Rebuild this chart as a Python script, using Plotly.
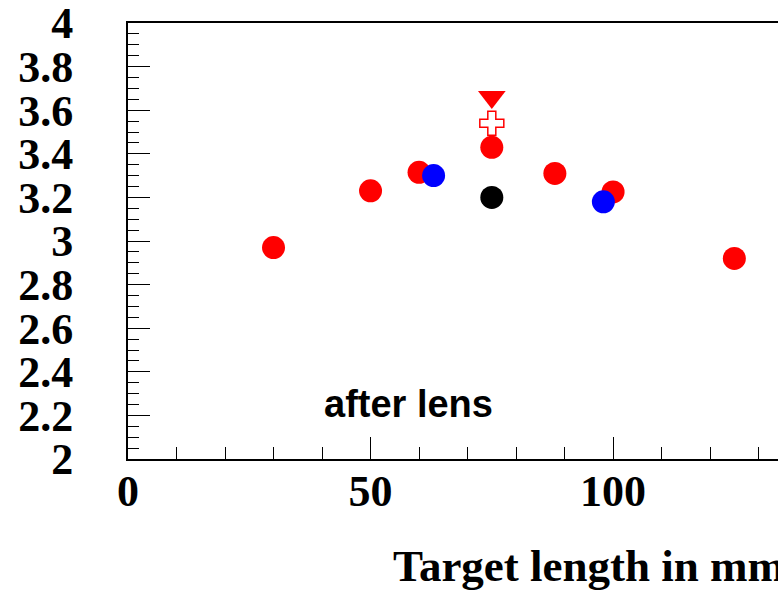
import plotly.graph_objects as go

# Resolution vs target length, measured after the lens
red_x = [30, 50, 60, 75, 88, 100, 125]
red_y = [2.97, 3.23, 3.315, 3.43, 3.31, 3.225, 2.92]

blue_x = [63, 98]
blue_y = [3.30, 3.18]

black_x = [75]
black_y = [3.20]

tri_x = [75]
tri_y = [3.66]

cross_x = [75]
cross_y = [3.54]

y_ticks = [2, 2.2, 2.4, 2.6, 2.8, 3, 3.2, 3.4, 3.6, 3.8, 4]
y_tick_text = ["2", "2.2", "2.4", "2.6", "2.8", "3", "3.2", "3.4", "3.6", "3.8", "4"]
x_ticks = [0, 50, 100]
x_tick_text = ["0", "50", "100"]

x_title = "Target length in mm"
label_text = "after lens"

serif_bold = dict(family="Liberation Serif", size=44, color="black", weight="bold")

fig = go.Figure()

fig.add_trace(go.Scatter(x=red_x, y=red_y, mode="markers",
                         marker=dict(symbol="circle", size=23, color="#ff0000", line=dict(width=0))))
fig.add_trace(go.Scatter(x=blue_x, y=blue_y, mode="markers",
                         marker=dict(symbol="circle", size=23, color="#0000ff", line=dict(width=0))))
fig.add_trace(go.Scatter(x=black_x, y=black_y, mode="markers",
                         marker=dict(symbol="circle", size=23, color="#000000", line=dict(width=0))))
fig.add_trace(go.Scatter(x=tri_x, y=tri_y, mode="markers",
                         marker=dict(symbol="triangle-down", size=24, color="#ff0000", line=dict(width=0))))
fig.add_trace(go.Scatter(x=cross_x, y=cross_y, mode="markers",
                         marker=dict(symbol="cross-open", size=20, color="#ff0000",
                                     line=dict(width=1.5, color="#ff0000"))))

fig.update_layout(
    width=778, height=593,
    margin=dict(l=128, r=0, t=23, b=134, autoexpand=False),
    paper_bgcolor="white", plot_bgcolor="white",
    showlegend=False,
    xaxis=dict(
        range=[0, 134], showgrid=False, zeroline=False,
        showline=True, linecolor="black", linewidth=2, mirror=True,
        ticks="inside", ticklen=22, tickwidth=1, tickcolor="black",
        tickvals=x_ticks, ticktext=x_tick_text, tickfont=serif_bold,
        ticklabelstandoff=-8, ticklabeloverflow="allow",
        minor=dict(dtick=10, tick0=0, ticks="inside", ticklen=12, tickwidth=1, tickcolor="black", showgrid=False),
    ),
    yaxis=dict(
        range=[2, 4], showgrid=False, zeroline=False,
        showline=True, linecolor="black", linewidth=2, mirror=False,
        ticks="inside", ticklen=22, tickwidth=1, tickcolor="black",
        tickvals=y_ticks, ticktext=y_tick_text, tickfont=serif_bold,
        ticklabelstandoff=44, ticklabeloverflow="allow",
        minor=dict(dtick=0.05, tick0=2, ticks="inside", ticklen=11, tickwidth=1, tickcolor="black", showgrid=False),
    ),
    annotations=[
        dict(text=label_text, x=57.8, y=2.252, xref="x", yref="y", showarrow=False,
             xanchor="center", yanchor="middle",
             font=dict(family="Liberation Sans", size=38, color="black", weight="bold")),
        dict(text=x_title, x=(391 - 128) / 650, y=-0.245, xref="paper", yref="paper",
             showarrow=False, xanchor="left", yanchor="middle",
             font=dict(family="Liberation Serif", size=45, color="black", weight="bold")),
    ],
)

fig.write_html("out.html")
